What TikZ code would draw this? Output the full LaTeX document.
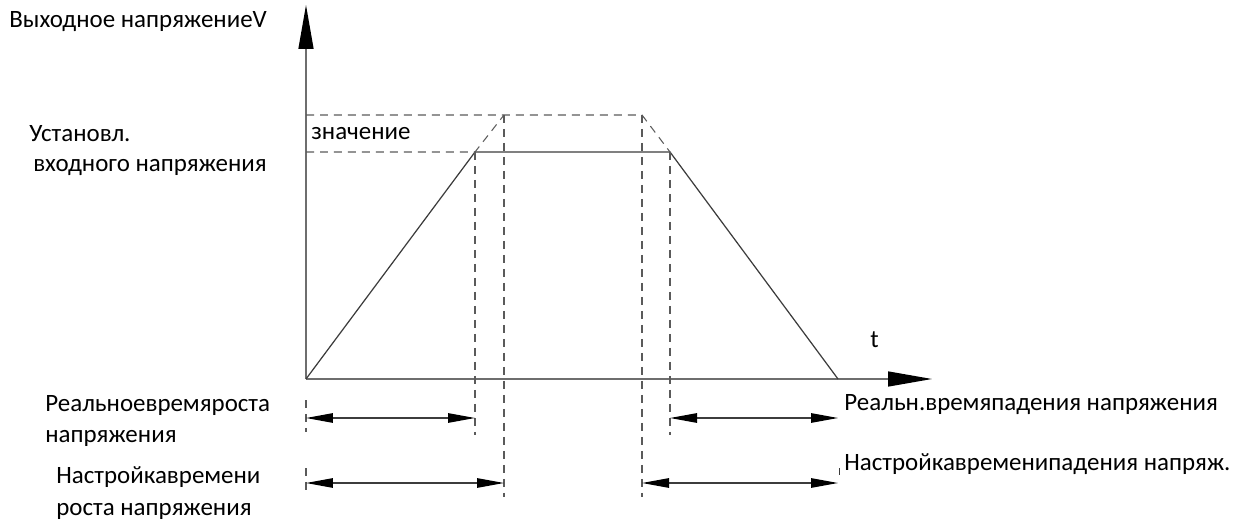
\documentclass[tikz,border=0pt]{standalone}
\usepackage{fontspec}
\setmainfont{Carlito}
\usetikzlibrary{arrows.meta}
\definecolor{lineGray}{RGB}{60,60,60}
\definecolor{axisGray}{RGB}{110,110,110}
\definecolor{dashGray}{RGB}{90,90,90}

\begin{document}
\begin{tikzpicture}[x=0.02cm, y=-0.02cm, font=\fontsize{14.2}{16}\selectfont,
            axis/.style={axisGray, line width=0.8pt, -{Triangle[length=0.88cm, width=0.3cm, black]}},
            guide/.style={dashGray, line width=0.6pt, dash pattern=on 0.16cm off 0.12cm},
            span/.style={lineGray, line width=0.7pt, {Triangle[length=0.54cm, width=0.19cm, black]}-{Triangle[length=0.54cm, width=0.19cm, black]}},
            label/.style={anchor=base west, inner sep=0pt}]
            \useasboundingbox (0,0) rectangle (1248,520);
            % points of the voltage curve
            \coordinate (origin) at (306,379);
            \coordinate (yTip) at (306,5);
            \coordinate (xTip) at (932,379);
            \coordinate (riseTop) at (475,152);
            \coordinate (fallTop) at (670,152);
            \coordinate (fallEnd) at (838,379);
            \coordinate (setRise) at (504,115);
            \coordinate (setFall) at (642,115);
            % axes and curve
            \draw[axis] (origin) -- (yTip);
            \draw[axis] (origin) -- (xTip);
            \draw[lineGray, line width=0.7pt] (origin) -- (riseTop) -- (fallTop) -- (fallEnd);
            % dashed guides
            \draw[guide] (306,115) -- (setFall) -- (fallTop);
            \draw[guide] (306,152) -- (riseTop) -- (setRise);
            \draw[guide] (riseTop) -- (475,435);
            \draw[guide] (setRise) -- (504,497);
            \draw[guide] (setFall) -- (642,497);
            \draw[guide] (fallTop) -- (670,435);
            \draw[guide] (306,400) -- (306,432);
            \draw[guide] (306,468) -- (306,490);
            \draw[lineGray, line width=0.4pt] (839,468) -- (839,475);
            % time spans
            \coordinate (realRiseA) at (306,418);
            \coordinate (realRiseB) at (475,418);
            \coordinate (realFallA) at (670,418);
            \coordinate (realFallB) at (838,418);
            \coordinate (setRiseA) at (306,483);
            \coordinate (setRiseB) at (504,483);
            \coordinate (setFallA) at (642,483);
            \coordinate (setFallB) at (838,483);
            \draw[span] (realRiseA) -- (realRiseB);
            \draw[span] (realFallA) -- (realFallB);
            \draw[span] (setRiseA) -- (setRiseB);
            \draw[span] (setFallA) -- (setFallB);
            % labels
            \node[label] (vLabel) at (9,28) {Выходное напряжениеV};
            \node[label] (setLabelA) at (29,142) {Установл.};
            \node[label] (setLabelB) at (33,172) {входного напряжения};
            \node[label] (setLabelC) at (311,140) {значение};
            \node[label] (tLabel) at (870,348) {t};
            \node[label] (riseRealA) at (45,411) {Реальноевремяроста};
            \node[label] (riseRealB) at (45,442) {напряжения};
            \node[label] (riseSetA) at (56,483) {Настройкавремени};
            \node[label] (riseSetB) at (56,515) {роста напряжения};
            \node[label] (fallReal) at (844,410) {Реальн.времяпадения напряжения};
            \node[label] (fallSet) at (844,470) {Настройкавременипадения напряж.};
        \end{tikzpicture}
\end{document}
